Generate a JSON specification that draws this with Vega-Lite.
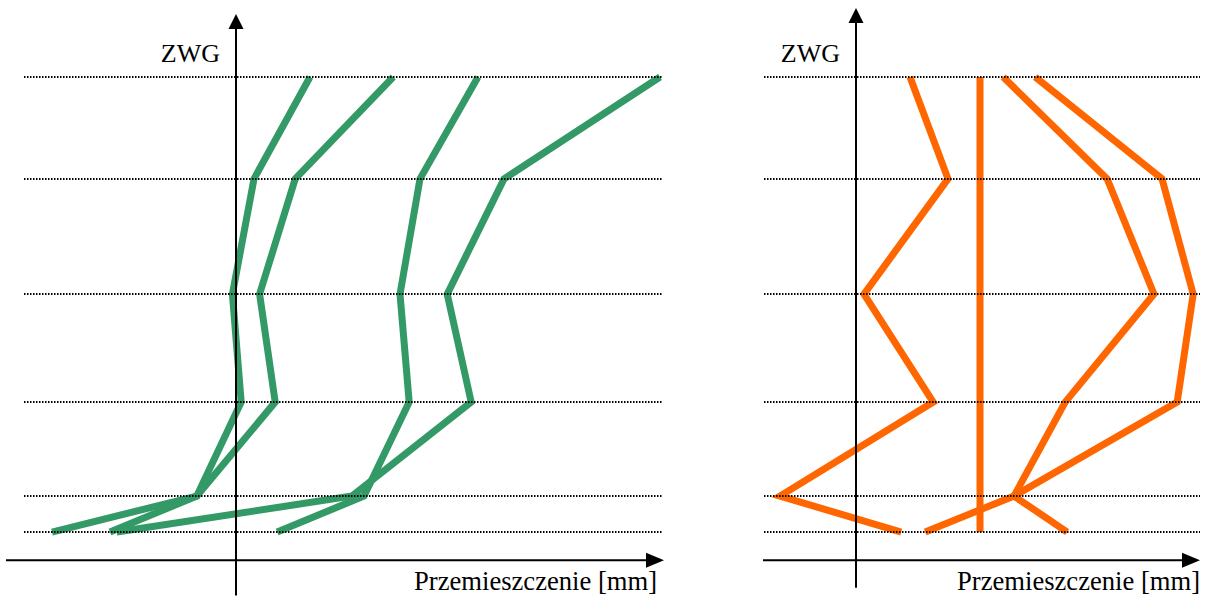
{
  "$schema": "https://vega.github.io/schema/vega-lite/v6.json",
  "autosize": {"type": "pad"},
  "padding": 0,
  "background": "white",
  "spacing": 40,
  "bounds": "flush",
  "config": {
    "view": {"stroke": null},
    "text": {"font": "Liberation Serif", "fontSize": 26, "color": "black"}
  },
  "datasets": {
    "poziomy": [
      {"poziom": 1, "glebokosc": 0},
      {"poziom": 2, "glebokosc": 2.83},
      {"poziom": 3, "glebokosc": 6.03},
      {"poziom": 4, "glebokosc": 9.03},
      {"poziom": 5, "glebokosc": 11.64},
      {"poziom": 6, "glebokosc": 12.64}
    ],
    "zielone": [
      {"seria": "G1", "poziom": 1, "glebokosc": 0, "przemieszczenie": 1.85},
      {"seria": "G1", "poziom": 2, "glebokosc": 2.83, "przemieszczenie": 0.45},
      {"seria": "G1", "poziom": 3, "glebokosc": 6.03, "przemieszczenie": -0.09},
      {"seria": "G1", "poziom": 4, "glebokosc": 9.03, "przemieszczenie": 0.13},
      {"seria": "G1", "poziom": 5, "glebokosc": 11.64, "przemieszczenie": -0.98},
      {"seria": "G1", "poziom": 6, "glebokosc": 12.64, "przemieszczenie": -4.6},
      {"seria": "G2", "poziom": 1, "glebokosc": 0, "przemieszczenie": 3.93},
      {"seria": "G2", "poziom": 2, "glebokosc": 2.83, "przemieszczenie": 1.48},
      {"seria": "G2", "poziom": 3, "glebokosc": 6.03, "przemieszczenie": 0.59},
      {"seria": "G2", "poziom": 4, "glebokosc": 9.03, "przemieszczenie": 0.98},
      {"seria": "G2", "poziom": 5, "glebokosc": 11.64, "przemieszczenie": -0.98},
      {"seria": "G2", "poziom": 6, "glebokosc": 12.64, "przemieszczenie": -3.15},
      {"seria": "G3", "poziom": 1, "glebokosc": 0, "przemieszczenie": 6.05},
      {"seria": "G3", "poziom": 2, "glebokosc": 2.83, "przemieszczenie": 4.6},
      {"seria": "G3", "poziom": 3, "glebokosc": 6.03, "przemieszczenie": 4.1},
      {"seria": "G3", "poziom": 4, "glebokosc": 9.03, "przemieszczenie": 4.33},
      {"seria": "G3", "poziom": 5, "glebokosc": 11.64, "przemieszczenie": 3.2},
      {"seria": "G3", "poziom": 6, "glebokosc": 12.64, "przemieszczenie": 1.03},
      {"seria": "G4", "poziom": 1, "glebokosc": 0, "przemieszczenie": 10.6},
      {"seria": "G4", "poziom": 2, "glebokosc": 2.83, "przemieszczenie": 6.7},
      {"seria": "G4", "poziom": 3, "glebokosc": 6.03, "przemieszczenie": 5.28},
      {"seria": "G4", "poziom": 4, "glebokosc": 9.03, "przemieszczenie": 5.88},
      {"seria": "G4", "poziom": 5, "glebokosc": 11.64, "przemieszczenie": 2.9},
      {"seria": "G4", "poziom": 6, "glebokosc": 12.64, "przemieszczenie": -2.98}
    ],
    "pomaranczowe": [
      {"seria": "P1", "poziom": 1, "glebokosc": 0, "przemieszczenie": 1.35},
      {"seria": "P1", "poziom": 2, "glebokosc": 2.83, "przemieszczenie": 2.3},
      {"seria": "P1", "poziom": 3, "glebokosc": 6.03, "przemieszczenie": 0.2},
      {"seria": "P1", "poziom": 4, "glebokosc": 9.03, "przemieszczenie": 1.93},
      {"seria": "P1", "poziom": 5, "glebokosc": 11.64, "przemieszczenie": -1.9},
      {"seria": "P1", "poziom": 6, "glebokosc": 12.64, "przemieszczenie": 1.13},
      {"seria": "P2", "poziom": 1, "glebokosc": 0, "przemieszczenie": 3.1},
      {"seria": "P2", "poziom": 2, "glebokosc": 2.83, "przemieszczenie": 3.1},
      {"seria": "P2", "poziom": 3, "glebokosc": 6.03, "przemieszczenie": 3.1},
      {"seria": "P2", "poziom": 4, "glebokosc": 9.03, "przemieszczenie": 3.1},
      {"seria": "P2", "poziom": 5, "glebokosc": 11.64, "przemieszczenie": 3.1},
      {"seria": "P2", "poziom": 6, "glebokosc": 12.64, "przemieszczenie": 3.1},
      {"seria": "P3", "poziom": 1, "glebokosc": 0, "przemieszczenie": 3.68},
      {"seria": "P3", "poziom": 2, "glebokosc": 2.83, "przemieszczenie": 6.28},
      {"seria": "P3", "poziom": 3, "glebokosc": 6.03, "przemieszczenie": 7.45},
      {"seria": "P3", "poziom": 4, "glebokosc": 9.03, "przemieszczenie": 5.23},
      {"seria": "P3", "poziom": 5, "glebokosc": 11.64, "przemieszczenie": 3.95},
      {"seria": "P3", "poziom": 6, "glebokosc": 12.64, "przemieszczenie": 5.28},
      {"seria": "P4", "poziom": 1, "glebokosc": 0, "przemieszczenie": 4.48},
      {"seria": "P4", "poziom": 2, "glebokosc": 2.83, "przemieszczenie": 7.65},
      {"seria": "P4", "poziom": 3, "glebokosc": 6.03, "przemieszczenie": 8.43},
      {"seria": "P4", "poziom": 4, "glebokosc": 9.03, "przemieszczenie": 8.03},
      {"seria": "P4", "poziom": 5, "glebokosc": 11.64, "przemieszczenie": 3.95},
      {"seria": "P4", "poziom": 6, "glebokosc": 12.64, "przemieszczenie": 1.73}
    ]
  },
  "resolve": {"scale": {"x": "independent", "y": "independent"}},
  "hconcat": [
    {
      "width": 700,
      "height": 597,
      "layer": [
        {
          "data": {"name": "zielone"},
          "mark": {"type": "line", "color": "#339966", "strokeWidth": 7, "strokeJoin": "miter"},
          "encoding": {
            "x": {"field": "przemieszczenie", "type": "quantitative", "scale": {"domain": [-5.9, 11.6], "nice": false, "zero": false}, "axis": null},
            "y": {"field": "glebokosc", "type": "quantitative", "scale": {"domain": [-2.139, 14.444], "reverse": true, "nice": false, "zero": false}, "axis": null},
            "detail": {"field": "seria"},
            "order": {"field": "poziom", "type": "quantitative"}
          }
        },
        {
          "data": {"name": "poziomy"},
          "mark": {"type": "rule", "color": "black", "strokeWidth": 2, "strokeDash": [1.5, 1.5]},
          "encoding": {
            "y": {"field": "glebokosc", "type": "quantitative"},
            "x": {"datum": -5.3},
            "x2": {"datum": 10.65}
          }
        },
        {
          "data": {"values": [{}]},
          "mark": {"type": "rule", "color": "black", "strokeWidth": 2},
          "encoding": {"x": {"datum": 0}, "y": {"datum": 14.4}, "y2": {"datum": -1.6}}
        },
        {
          "data": {"values": [{}]},
          "mark": {"type": "rule", "color": "black", "strokeWidth": 2},
          "encoding": {"y": {"datum": 13.42}, "x": {"datum": -5.75}, "x2": {"datum": 10.5}}
        },
        {
          "data": {"values": [{}]},
          "mark": {"type": "point", "filled": true, "color": "black", "opacity": 1, "strokeWidth": 0, "size": 900, "shape": "M0,0L-0.5,1L0.5,1Z"},
          "encoding": {"x": {"datum": 0}, "y": {"datum": -1.75}}
        },
        {
          "data": {"values": [{}]},
          "mark": {"type": "point", "filled": true, "color": "black", "opacity": 1, "strokeWidth": 0, "size": 900, "shape": "M0,0L-1.2,-0.5L-1.2,0.5Z"},
          "encoding": {"x": {"datum": 10.7}, "y": {"datum": 13.42}}
        },
        {
          "data": {"values": [{}]},
          "mark": {"type": "text", "text": "ZWG", "align": "right", "baseline": "alphabetic"},
          "encoding": {"x": {"datum": -0.4}, "y": {"datum": -0.417}}
        },
        {
          "data": {"values": [{}]},
          "mark": {"type": "text", "text": "Przemieszczenie [mm]", "align": "right", "baseline": "alphabetic", "fontSize": 26.6},
          "encoding": {"x": {"datum": 10.525}, "y": {"datum": 14.25}}
        }
      ]
    },
    {
      "width": 468,
      "height": 597,
      "layer": [
        {
          "data": {"name": "pomaranczowe"},
          "mark": {"type": "line", "color": "#FF6600", "strokeWidth": 7, "strokeJoin": "miter"},
          "encoding": {
            "x": {"field": "przemieszczenie", "type": "quantitative", "scale": {"domain": [-2.9, 8.8], "nice": false, "zero": false}, "axis": null},
            "y": {"field": "glebokosc", "type": "quantitative", "scale": {"domain": [-2.139, 14.444], "reverse": true, "nice": false, "zero": false}, "axis": null},
            "detail": {"field": "seria"},
            "order": {"field": "poziom", "type": "quantitative"}
          }
        },
        {
          "data": {"name": "poziomy"},
          "mark": {"type": "rule", "color": "black", "strokeWidth": 2, "strokeDash": [1.5, 1.5]},
          "encoding": {
            "y": {"field": "glebokosc", "type": "quantitative"},
            "x": {"datum": -2.3},
            "x2": {"datum": 8.6}
          }
        },
        {
          "data": {"values": [{}]},
          "mark": {"type": "rule", "color": "black", "strokeWidth": 2},
          "encoding": {"x": {"datum": 0}, "y": {"datum": 14.19}, "y2": {"datum": -1.75}}
        },
        {
          "data": {"values": [{}]},
          "mark": {"type": "rule", "color": "black", "strokeWidth": 2},
          "encoding": {"y": {"datum": 13.42}, "x": {"datum": -2.325}, "x2": {"datum": 8.4}}
        },
        {
          "data": {"values": [{}]},
          "mark": {"type": "point", "filled": true, "color": "black", "opacity": 1, "strokeWidth": 0, "size": 900, "shape": "M0,0L-0.5,1L0.5,1Z"},
          "encoding": {"x": {"datum": 0}, "y": {"datum": -1.917}}
        },
        {
          "data": {"values": [{}]},
          "mark": {"type": "point", "filled": true, "color": "black", "opacity": 1, "strokeWidth": 0, "size": 900, "shape": "M0,0L-1.2,-0.5L-1.2,0.5Z"},
          "encoding": {"x": {"datum": 8.6}, "y": {"datum": 13.42}}
        },
        {
          "data": {"values": [{}]},
          "mark": {"type": "text", "text": "ZWG", "align": "right", "baseline": "alphabetic"},
          "encoding": {"x": {"datum": -0.4}, "y": {"datum": -0.417}}
        },
        {
          "data": {"values": [{}]},
          "mark": {"type": "text", "text": "Przemieszczenie [mm]", "align": "right", "baseline": "alphabetic", "fontSize": 26.6},
          "encoding": {"x": {"datum": 8.6}, "y": {"datum": 14.25}}
        }
      ]
    }
  ]
}
